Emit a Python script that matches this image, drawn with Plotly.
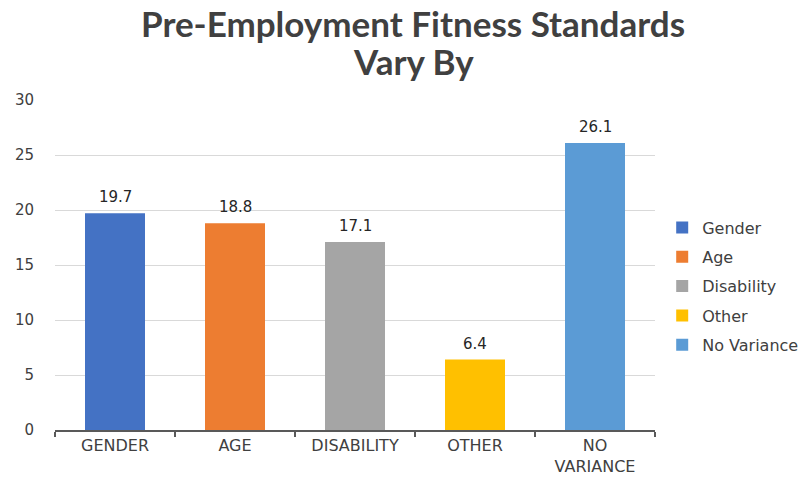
import plotly.graph_objects as go

# Survey results: share of departments whose pre-employment fitness standards vary
categories = ["GENDER", "AGE", "DISABILITY", "OTHER", "NO<br>VARIANCE"]
legend_names = ["Gender", "Age", "Disability", "Other", "No Variance"]
values = [19.7, 18.8, 17.1, 6.4, 26.1]
colors = ["#4472C4", "#ED7D31", "#A5A5A5", "#FFC000", "#5B9BD5"]
title_lines = ["Pre-Employment Fitness Standards", "Vary By"]

fig = go.Figure()
for cat, name, val, col in zip(categories, legend_names, values, colors):
    fig.add_trace(go.Bar(
        x=[cat], y=[val], name=name, legendgroup=name,
        marker=dict(color=col, line=dict(width=0)),
        width=0.5,
    ))
    # value label above each bar
    fig.add_annotation(
        x=cat, y=val, text=f"{val:.1f}", showarrow=False,
        yanchor="bottom", yshift=5,
        font=dict(family="DejaVu Sans", size=15, color="#262626"),
    )

# two-line chart title
for i, line in enumerate(title_lines):
    fig.add_annotation(
        xref="paper", yref="paper", x=0.597, y=1.232 - i * 0.113,
        text=f"<b>{line}</b>", showarrow=False,
        xanchor="center", yanchor="middle",
        font=dict(family="Lato", size=35, color="#404040"),
    )

fig.update_layout(
    width=807, height=480,
    margin=dict(l=55, r=152, t=100, b=50, autoexpand=False),
    paper_bgcolor="white", plot_bgcolor="white",
    barmode="overlay",
    showlegend=True,
    legend=dict(
        x=1.012, xanchor="left", y=0.436, yanchor="middle",
        font=dict(family="DejaVu Sans", size=16, color="#404040"),
        tracegroupgap=5.5, itemwidth=30,
        bgcolor="rgba(0,0,0,0)",
    ),
    xaxis=dict(
        categoryorder="array", categoryarray=categories,
        showline=True, linecolor="#595959", linewidth=1.5,
        ticks="outside", tickson="boundaries", ticklen=5, tickcolor="#595959", tickwidth=1.5,
        tickfont=dict(family="DejaVu Sans", size=16, color="#404040"),
        showgrid=False,
    ),
    yaxis=dict(
        range=[0, 30], dtick=5,
        showgrid=True, gridcolor="#D9D9D9", gridwidth=1.2,
        zeroline=False, showline=False,
        tickfont=dict(family="DejaVu Sans", size=15, color="#404040"),
        ticklabelstandoff=20,
    ),
)

fig.write_html("out.html")
